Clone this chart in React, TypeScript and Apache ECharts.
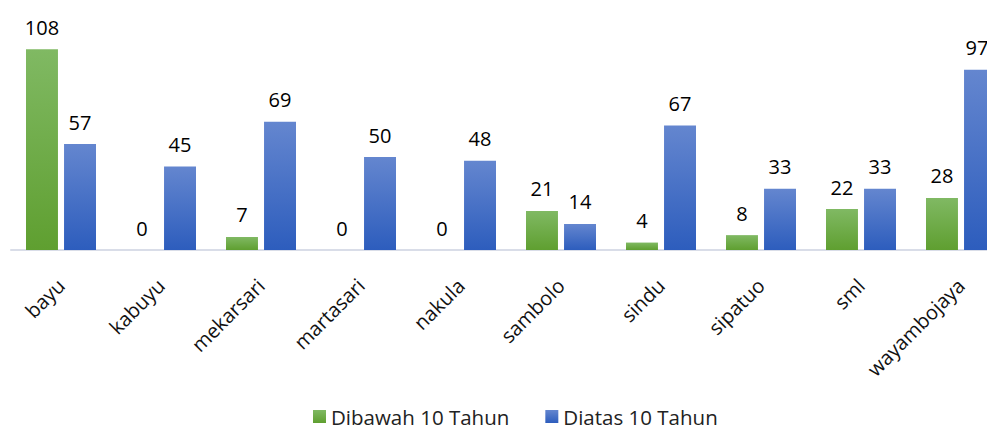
import React, { useEffect, useRef } from "react";
import * as echarts from "echarts";

const categories = ["bayu", "kabuyu", "mekarsari", "martasari", "nakula", "sambolo", "sindu", "sipatuo", "sml", "wayambojaya"];
const dibawah = [108, 0, 7, 0, 0, 21, 4, 8, 22, 28];
const diatas = [57, 45, 69, 50, 48, 14, 67, 33, 33, 97];
const seriesNames = ["Dibawah 10 Tahun", "Diatas 10 Tahun"];

const FONT = "Open Sans";

function grad(top: string, bottom: string) {
  return new echarts.graphic.LinearGradient(0, 0, 0, 1, [
    { offset: 0, color: top },
    { offset: 1, color: bottom },
  ]);
}

export default function App() {
  const ref = useRef<HTMLDivElement>(null);
  useEffect(() => {
    if (!ref.current) return;
    const chart = echarts.init(ref.current, undefined, { renderer: "svg" });
    const label = {
      show: true,
      position: "top" as const,
      distance: 12,
      fontFamily: FONT,
      fontSize: 20,
      color: "#000",
    };
    const lastIdx = diatas.length - 1;
    const diatasData = diatas.map((v, i) =>
      i === lastIdx ? { value: v, label: { offset: [-3, 0] } } : v
    );
    chart.setOption({
      animation: false,
      grid: {
        left: 11,
        width: 1000,
        top: 27,
        bottom: 183,
        containLabel: false,
        outerBoundsMode: "none",
      },
      legend: {
        bottom: 1,
        left: 308,
        itemWidth: 13,
        itemHeight: 13,
        itemGap: 36,
        icon: "rect",
        textStyle: { fontFamily: FONT, fontSize: 20.5, color: "#222" },
        data: seriesNames,
      },
      xAxis: {
        type: "category",
        data: categories,
        axisLine: { lineStyle: { color: "#d9dde8", width: 2 } },
        axisTick: { show: false },
        axisLabel: {
          rotate: 45,
          interval: 0,
          margin: 32,
          fontFamily: FONT,
          fontSize: 20,
          color: "#111",
        },
      },
      yAxis: {
        type: "value",
        min: 0,
        max: 120,
        show: false,
        splitLine: { show: false },
      },
      series: [
        {
          name: seriesNames[0],
          type: "bar",
          data: dibawah,
          barGap: "19%",
          barCategoryGap: "30%",
          itemStyle: { color: grad("#80b963", "#5f9f30") },
          label,
        },
        {
          name: seriesNames[1],
          type: "bar",
          data: diatasData,
          itemStyle: { color: grad("#6486cf", "#2d5dbd") },
          label,
        },
      ],
    });
    return () => chart.dispose();
  }, []);
  return <div ref={ref} style={{ width: 995, height: 433, margin: -8 }} />;
}
